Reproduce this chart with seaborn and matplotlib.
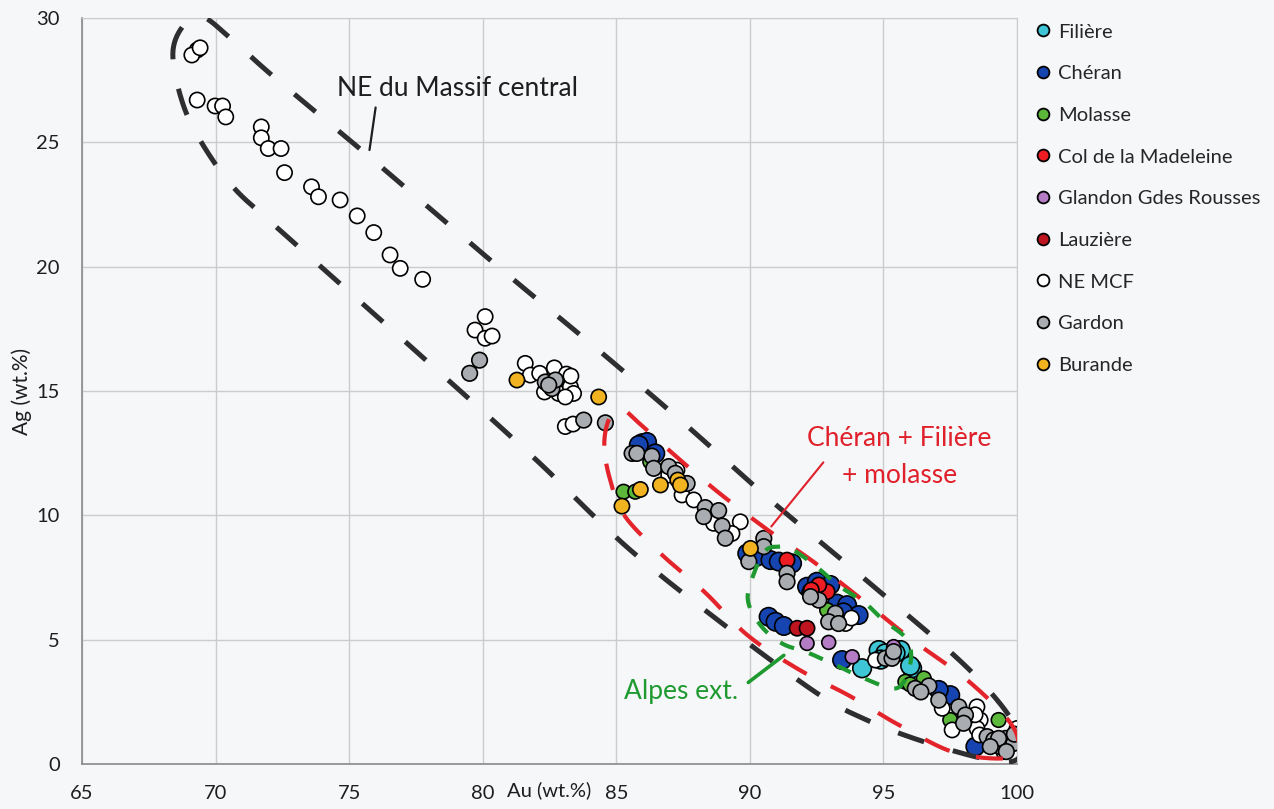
import numpy as np
import pandas as pd
import seaborn as sns
import matplotlib.pyplot as plt
from matplotlib.lines import Line2D

# Series (legend order) and marker colours
series = ['Filière', 'Chéran', 'Molasse', 'Col de la Madeleine',
          'Glandon Gdes Rousses', 'Lauzière', 'NE MCF', 'Gardon', 'Burande']
colors = ['#3fc6d6', '#1645b2', '#5cb83a', '#ee1d23',
          '#b57cc6', '#be1520', '#ffffff', '#a9adb2', '#f2b321']
sizes = [180, 175, 110, 120, 100, 120, 120, 125, 120]

# Au / Ag (wt.%)
filiere_au = [94.2, 94.82, 95.07, 96.07, 95.64, 95.45, 94.9, 96.0]
filiere_ag = [3.85, 4.58, 4.45, 3.85, 4.58, 4.46, 4.2, 3.95]

cheran_au = [85.96, 86.15, 86.46, 85.84, 89.9, 90.27, 90.77, 91.08, 91.58,
             92.14, 92.51, 93.01, 93.26, 93.64, 94.07, 90.7, 90.96, 91.27,
             93.45, 97.5, 97.07, 98.44, 92.3, 93.5]
cheran_ag = [12.9, 12.95, 12.49, 12.83, 8.47, 8.34, 8.2, 8.14, 8.07,
             7.13, 7.33, 7.2, 6.45, 6.39, 5.99, 5.92, 5.72, 5.55,
             4.18, 2.77, 2.98, 0.7, 6.9, 6.1]

molasse_au = [85.27, 85.71, 86.27, 92.89, 95.82, 96.51, 97.5, 99.31, 96.0]
molasse_ag = [10.95, 10.95, 12.16, 6.19, 3.31, 3.44, 1.77, 1.77, 3.2]

madeleine_au = [91.39, 92.89, 92.58, 92.3]
madeleine_ag = [8.2, 6.93, 7.2, 7.0]

glandon_au = [92.14, 92.95, 93.83, 95.38]
glandon_ag = [4.85, 4.89, 4.31, 4.72]

lauziere_au = [91.77, 92.14]
lauziere_ag = [5.46, 5.46]

nemcf_au = [69.31, 69.11, 69.42, 69.31, 69.98, 70.26, 70.38, 71.71, 71.71,
            71.97, 72.45, 72.58, 73.59, 73.85, 74.66, 75.3, 75.92, 76.53,
            76.91, 77.75, 80.09, 79.71, 80.09, 80.35,
            81.59, 81.78, 82.13, 82.68, 83.13, 82.31, 82.84, 83.28, 83.4,
            83.09, 82.53, 83.3, 83.09, 83.38,
            86.96, 87.27, 87.46, 87.9, 88.64, 89.64, 89.33,
            93.58, 93.8, 94.7, 98.5, 98.62, 97.2, 100.0, 98.5, 97.57, 98.6,
            98.43, 99.5]
nemcf_ag = [28.71, 28.51, 28.8, 26.7, 26.46, 26.46, 26.02, 25.62, 25.18,
            24.75, 24.75, 23.78, 23.21, 22.81, 22.68, 22.04, 21.37, 20.47,
            19.93, 19.49, 17.99, 17.45, 17.12, 17.21,
            16.11, 15.64, 15.71, 15.93, 15.68, 14.96, 14.9, 15.17, 14.9,
            14.76, 15.24, 15.6, 13.57, 13.67,
            11.62, 11.82, 10.82, 10.62, 9.68, 9.74, 9.27,
            5.65, 5.87, 4.18, 2.3, 1.77, 2.24, 1.43, 1.43, 1.37, 1.17,
            1.98, 0.5]

gardon_au = [79.88, 79.51, 82.34, 82.59, 82.72, 82.47, 83.78, 84.59,
             85.59, 85.77, 86.33, 86.4, 86.96, 87.21, 87.65, 88.33, 88.83,
             88.27, 88.96, 89.08, 90.52, 90.52, 89.96, 91.39, 91.39, 92.58,
             92.27, 93.2, 92.95, 93.32, 95.07, 95.32, 95.38, 96.19, 96.7,
             96.4, 97.07, 97.82, 98.07, 98.0, 98.88, 99.13, 99.38, 99.57,
             99.88, 99.31, 99.0, 99.6, 99.9]
gardon_ag = [16.24, 15.71, 15.36, 15.1, 15.44, 15.24, 13.83, 13.72,
             12.49, 12.49, 12.38, 11.89, 11.96, 11.69, 11.28, 10.31, 10.19,
             9.95, 9.57, 9.08, 9.07, 8.74, 8.14, 7.67, 7.33, 6.59,
             6.73, 6.06, 5.72, 5.65, 4.25, 4.25, 4.52, 3.04, 3.14,
             2.9, 2.57, 2.3, 1.97, 1.64, 1.1, 0.97, 0.7, 1.03,
             0.83, 1.03, 0.7, 0.5, 1.2]

burande_au = [81.28, 84.34, 86.65, 87.3, 87.4, 85.9, 85.21, 90.02]
burande_ag = [15.44, 14.76, 11.22, 11.42, 11.22, 11.04, 10.37, 8.67]

# Hand-drawn group outlines (vertices, Au / Ag)
massif_au = [68.4, 68.8, 69.5, 70.56, 72.17, 75.61, 80.65, 84.05, 87.4, 90.74,
             94.08, 97.44, 98.97, 99.9, 100.2, 99.8, 98.6, 96.36, 94.35, 92.48,
             88.87, 85.39, 82.1, 78.82, 75.49, 72.2, 70.6, 69.34, 68.7]
massif_ag = [28.6, 29.7, 30.05, 29.18, 27.64, 24.55, 19.93, 16.9, 13.83, 10.64,
             7.64, 4.57, 2.93, 1.6, 0.6, 0.1, 0.25, 0.95, 1.78, 2.87,
             5.73, 8.73, 12.13, 15.33, 18.52, 21.67, 23.27, 25.23, 26.8]

cheran_zone_au = [84.55, 84.7, 85.1, 85.86, 87.13, 88.8, 90.67, 92.41, 94.28,
                  96.09, 98.02, 99.57, 100.05, 99.7, 97.7, 95.69, 93.75, 91.8,
                  89.91, 88.33, 86.66, 85.3, 84.75]
cheran_zone_ag = [12.8, 13.8, 14.35, 13.7, 12.47, 10.94, 9.41, 8.11, 6.54,
                  4.98, 3.48, 1.9, 0.9, 0.25, 0.45, 1.5, 2.73, 3.82,
                  5.18, 6.89, 8.46, 10.0, 11.5]

alpes_au = [90.6, 91.08, 91.52, 92.42, 93.29, 94.29, 94.99, 95.89, 96.0,
            95.5, 94.29, 93.29, 92.23, 91.2, 90.39, 89.92, 90.2]
alpes_ag = [8.6, 8.74, 8.67, 8.0, 7.2, 6.49, 5.79, 4.99, 4.0,
            3.05, 3.44, 3.94, 4.45, 4.85, 5.59, 6.63, 7.8]


def closed_spline(xs, ys, n=24):
    p = np.column_stack([xs, ys])
    k = len(p)
    t = np.linspace(0, 1, n, endpoint=False)[:, None]
    parts = []
    for i in range(k):
        p0, p1, p2, p3 = p[(i - 1) % k], p[i], p[(i + 1) % k], p[(i + 2) % k]
        parts.append(0.5 * (2 * p1 + (p2 - p0) * t
                            + (2 * p0 - 5 * p1 + 4 * p2 - p3) * t ** 2
                            + (3 * p1 - p0 - 3 * p2 + p3) * t ** 3))
    parts.append(p[:1])
    return np.vstack(parts)


groups = [(filiere_au, filiere_ag), (cheran_au, cheran_ag),
          (molasse_au, molasse_ag), (madeleine_au, madeleine_ag),
          (glandon_au, glandon_ag), (lauziere_au, lauziere_ag),
          (nemcf_au, nemcf_ag), (gardon_au, gardon_ag),
          (burande_au, burande_ag)]
frames = [pd.DataFrame({'Au': au, 'Ag': ag, 'serie': name})
          for name, (au, ag) in zip(series, groups)]
df = pd.concat(frames, ignore_index=True)

sns.set_style('whitegrid')
plt.rcParams['font.family'] = ['Lato', 'DejaVu Sans']

bg = '#f6f7f9'
fig = plt.figure(figsize=(12.74, 8.09), dpi=100, facecolor=bg)
ax = fig.add_axes([0.0644, 0.0556, 0.7339, 0.9222])
ax.set_facecolor(bg)

sns.scatterplot(data=df, x='Au', y='Ag', hue='serie', size='serie',
                hue_order=series, size_order=series,
                palette=dict(zip(series, colors)),
                sizes=dict(zip(series, sizes)),
                edgecolor='black', linewidth=1.2, alpha=1,
                legend=False, ax=ax, zorder=3)

# outlines
for (xs, ys), col, lw, dash in [((massif_au, massif_ag), '#2e2e30', 3.6, (5.5, 6.0)),
                                ((cheran_zone_au, cheran_zone_ag), '#e3242b', 3.0, (6.5, 6.5)),
                                ((alpes_au, alpes_ag), '#1f9a30', 3.0, (3.6, 3.8))]:
    c = closed_spline(xs, ys)
    ax.plot(c[:, 0], c[:, 1], color=col, lw=lw, linestyle=(0, dash),
            solid_capstyle='butt', dash_capstyle='butt', zorder=4)

# annotations
ax.text(79.04, 27.18, 'NE du Massif central', ha='center', va='center',
        fontsize=19, color='#1e1e1e', zorder=5)
ax.plot([75.99, 75.76], [26.4, 24.69], color='#1e1e1e', lw=1.6, zorder=5)

ax.text(95.6, 13.1, 'Chéran + Filière', ha='center', va='center',
        fontsize=19, color='#e0202a', zorder=5)
ax.text(95.6, 11.6, '+ molasse', ha='center', va='center',
        fontsize=19, color='#e0202a', zorder=5)
ax.plot([92.75, 90.8], [12.13, 9.55], color='#e0202a', lw=1.5, zorder=5)

ax.text(87.43, 2.93, 'Alpes ext.', ha='center', va='center',
        fontsize=19, color='#1f9a30', zorder=5)
ax.plot([89.94, 91.27], [3.28, 4.37], color='#1f9a30', lw=2.6, zorder=5)

# axes
ax.set_xlim(65, 100)
ax.set_ylim(0, 30)
ax.set_xticks(range(65, 101, 5))
ax.set_yticks(range(0, 31, 5))
ax.grid(True, color='#cccccc', lw=1.0)
ax.tick_params(axis='both', length=0, labelsize=14.5, colors='#1e1e1e')
ax.tick_params(axis='x', pad=15)
ax.tick_params(axis='y', pad=16)
for side in ['top', 'right']:
    ax.spines[side].set_color('#cccccc')
for side in ['left', 'bottom']:
    ax.spines[side].set_color('#8a8a8a')
    ax.spines[side].set_linewidth(1.2)
ax.set_xlabel('Au (wt.%)', fontsize=14.5, color='#1e1e1e')
ax.xaxis.set_label_coords(0.5, -0.0225)
ax.xaxis.label.set_va('top')
ax.set_ylabel('Ag (wt.%)', fontsize=15, color='#1e1e1e', labelpad=3)

handles = [Line2D([], [], marker='o', linestyle='', markersize=8.5,
                  markerfacecolor=c, markeredgecolor='black',
                  markeredgewidth=1.3) for c in colors]
fig.legend(handles, series, loc='upper left', bbox_to_anchor=(0.806, 0.981),
           frameon=False, fontsize=14.5, labelspacing=1.22, handlelength=0.8,
           handletextpad=0.35, borderaxespad=0)

fig.savefig('out.png', dpi=100, facecolor=bg)
